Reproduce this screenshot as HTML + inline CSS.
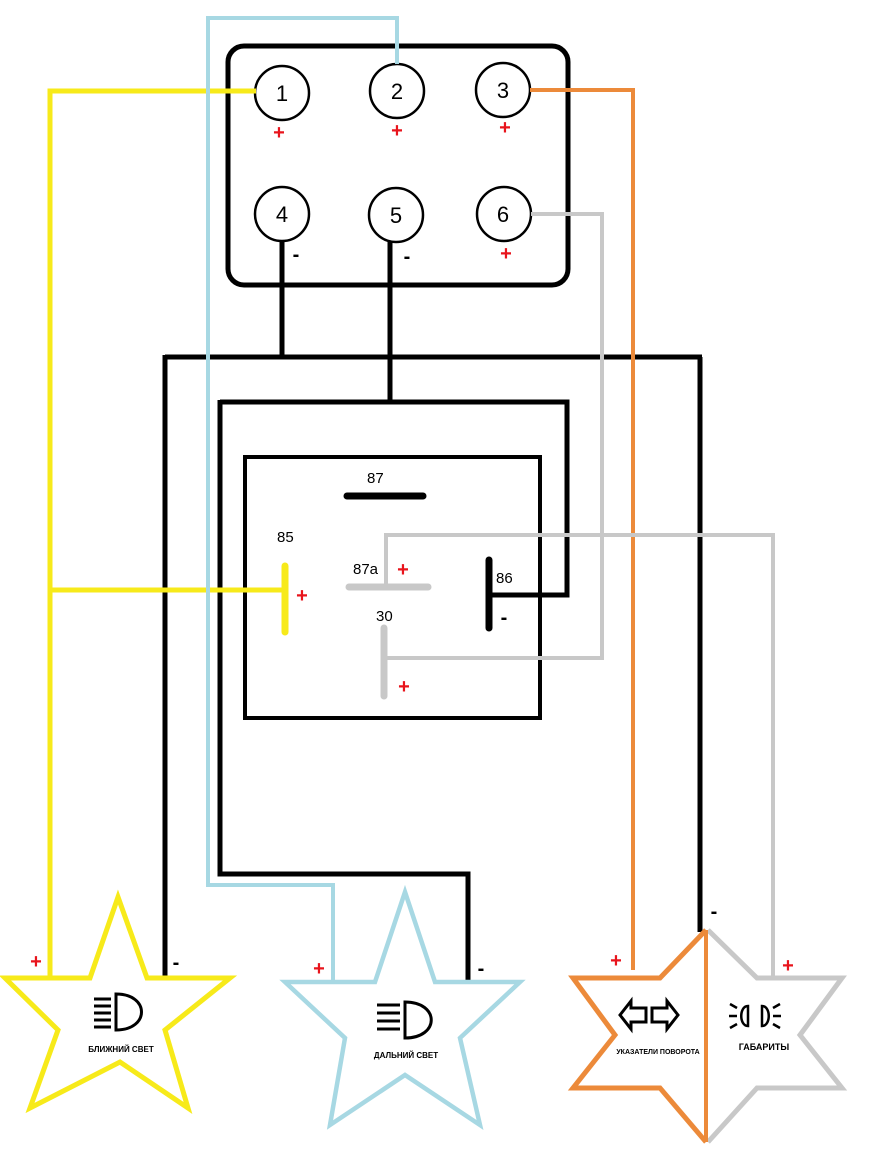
<!DOCTYPE html>
<html><head><meta charset="utf-8"><style>
html,body{margin:0;padding:0;background:#fff}
svg{display:block}
text{font-family:"Liberation Sans","DejaVu Sans",sans-serif}
.p{fill:#e8141c;font-weight:bold;font-size:20px}
.m{fill:#000;font-weight:bold;font-size:20px}
</style></head><body>
<svg width="880" height="1154" viewBox="0 0 880 1154" xmlns="http://www.w3.org/2000/svg">
<g fill="none" stroke-linejoin="miter" stroke-linecap="butt">
<g stroke="#000" stroke-width="5">
<path d="M282 241V357M165 357H702M165 355V978M700 357V932"/>
<path d="M390 242V402M220 402H567V595H490M220 400V874H468V980"/>
<rect x="245" y="457" width="295" height="261" stroke-width="4"/>
</g>
<path d="M347 496H423" stroke="#000" stroke-width="7" stroke-linecap="round"/>
<path d="M489 560V628" stroke="#000" stroke-width="7" stroke-linecap="round"/>
<rect x="228" y="46" width="340" height="239" rx="16" stroke="#000" stroke-width="5"/>
<g stroke="#000" stroke-width="2.5" fill="#fff">
<circle cx="282" cy="93" r="27"/><circle cx="397" cy="91" r="27"/><circle cx="503" cy="90" r="27"/>
<circle cx="282" cy="214" r="27"/><circle cx="396" cy="215" r="27"/><circle cx="504" cy="214" r="27"/>
</g>
<g stroke="#f7ea1a" stroke-width="5">
<path d="M256 91H50V978M50 590H285"/>
</g>
<path d="M285 566V632" stroke="#f7ea1a" stroke-width="7" stroke-linecap="round"/>
<path d="M397 64V18H208V885H333V982" stroke="#a7d8e3" stroke-width="4"/>
<path d="M530 90H633V970" stroke="#ec8a3a" stroke-width="4"/>
<g stroke="#c8c8c8" stroke-width="4">
<path d="M531 214H602V658H385M386 587V535H773V978"/>
</g>
<path d="M349 587H428" stroke="#c8c8c8" stroke-width="7" stroke-linecap="round"/>
<path d="M384 628V696" stroke="#c8c8c8" stroke-width="7" stroke-linecap="round"/>
<path d="M118 897L147 978H230L165 1030L188 1108L120 1062L30 1108L58 1030L5 978H90Z" stroke="#f7ea1a" stroke-width="5"/>
<path d="M405 892L435 982H520L460 1038L480 1125L405 1075L330 1125L345 1038L285 982H375Z" stroke="#a7d8e3" stroke-width="4.5"/>
<path d="M706 930L660 978H573L615 1035L573 1088H660L706 1142" stroke="#ec8a3a" stroke-width="5"/>
<path d="M708 930L757 978H842L800 1035L842 1088H757L708 1142" stroke="#c8c8c8" stroke-width="5"/>
<path d="M706 930V1142" stroke="#ec8a3a" stroke-width="4"/>
<g stroke="#000" stroke-width="3">
<path d="M116 994C150 994 150 1030 116 1030Z"/>
<path d="M94 999H111M94 1006H111M94 1013H111M94 1020H111M94 1027H111"/>
<path d="M405 1002C440 1002 440 1038 405 1038Z"/>
<path d="M377 1005H400M377 1013H400M377 1021H400M377 1029H400"/>
<path d="M620 1015L631 1001V1008H646V1022H631V1029Z M678 1015L667 1001V1008H652V1022H667V1029Z" stroke-width="3"/>
<path d="M748 1006C739 1006 739 1026 748 1026Z M762 1006C771 1006 771 1026 762 1026Z" stroke-width="2.5"/>
<path d="M730 1004L737 1008M729 1016H737M730 1028L737 1024M780 1004L773 1008M781 1016H773M780 1028L773 1024" stroke-width="2.5"/>
</g>
</g>
<g font-size="22" fill="#000" text-anchor="middle">
<text x="282" y="101">1</text><text x="397" y="99">2</text><text x="503" y="98">3</text>
<text x="282" y="222">4</text><text x="396" y="223">5</text><text x="503" y="222">6</text>
</g>
<g font-size="15" fill="#000">
<text x="367" y="483">87</text><text x="277" y="542">85</text><text x="353" y="574">87a</text>
<text x="496" y="583">86</text><text x="376" y="621">30</text>
</g>
<g class="p" text-anchor="middle">
<text x="279" y="139">+</text><text x="397" y="137">+</text><text x="505" y="134">+</text><text x="506" y="260">+</text>
<text x="302" y="602">+</text><text x="403" y="576">+</text><text x="404" y="693">+</text>
<text x="36" y="968">+</text><text x="319" y="975">+</text><text x="616" y="967">+</text><text x="788" y="972">+</text>
</g>
<g class="m" text-anchor="middle">
<text x="296" y="261">-</text><text x="407" y="263">-</text><text x="504" y="624">-</text>
<text x="176" y="969">-</text><text x="481" y="975">-</text><text x="714" y="918">-</text>
</g>
<g font-size="8" font-weight="bold" fill="#000" text-anchor="middle">
<text x="121" y="1052">БЛИЖНИЙ СВЕТ</text>
<text x="406" y="1058">ДАЛЬНИЙ СВЕТ</text>
<text x="658" y="1054" font-size="7">УКАЗАТЕЛИ ПОВОРОТА</text>
<text x="764" y="1050" font-size="9">ГАБАРИТЫ</text>
</g>
</svg>
</body></html>
